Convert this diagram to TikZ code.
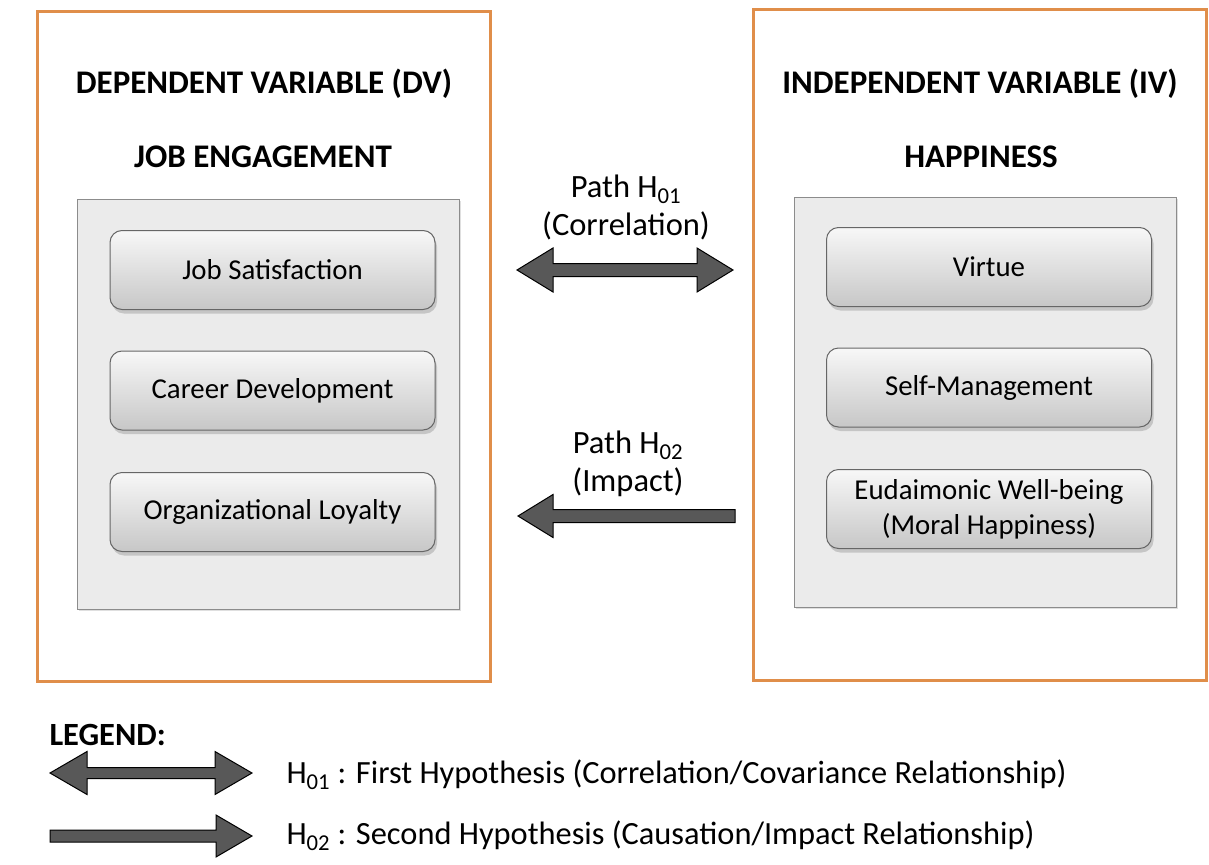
\documentclass[tikz,border=0pt]{standalone}
\usepackage{fontspec}
\setmainfont{Carlito}
\usetikzlibrary{shadows}
\definecolor{frameorange}{RGB}{224,142,74}
\definecolor{panelgray}{RGB}{235,235,235}
\definecolor{arrowgray}{RGB}{88,88,88}
\tikzset{
  frame/.style={draw=frameorange, line width=3pt, inner sep=0pt},
  panel/.style={draw=black!45, fill=panelgray, line width=0.9pt, inner sep=0pt,
    drop shadow={shadow xshift=2pt, shadow yshift=-2pt, opacity=0.25}},
  item/.style={draw=black!60, line width=1pt, rounded corners=12pt,
    top color=black!3, bottom color=black!22, minimum width=325pt, minimum height=79pt,
    inner sep=0pt, align=center, font=\fontsize{28.8}{35}\selectfont,
    drop shadow={shadow xshift=2pt, shadow yshift=-4pt, opacity=0.35}},
  title/.style={font=\bfseries\fontsize{33}{38}\selectfont},
  lbl/.style={font=\fontsize{32.5}{38}\selectfont, align=center},
  legtext/.style={font=\fontsize{32.4}{38}\selectfont, anchor=west},
  fat/.style={draw=black, line width=1pt, fill=arrowgray, line join=miter}
}
\begin{document}
\begin{tikzpicture}[x=1pt, y=-1pt]
\useasboundingbox (0,0) rectangle (1209,864);
% frames
\node[frame, minimum width=453pt, minimum height=669pt] (dvframe) at (263.5,346.5) {};
\node[frame, minimum width=453pt, minimum height=670pt] (ivframe) at (979.5,345) {};
% titles
\node[title] (dvtitle) at (264,84) {DEPENDENT VARIABLE (DV)};
\node[title] (dvname) at (263,157) {JOB ENGAGEMENT};
\node[title] (ivtitle) at (980,84) {INDEPENDENT VARIABLE (IV)};
\node[title] (ivname) at (981,157) {HAPPINESS};
% panels
\node[panel, minimum width=382pt, minimum height=410pt] (dvpanel) at (268,404) {};
\node[panel, minimum width=382pt, minimum height=410pt] (ivpanel) at (985,402) {};
% items
\node[item] (js) at (272.5,270) {Job Satisfaction};
\node[item] (cd) at (272.5,390.5) {Career Development};
\node[item] (ol) at (272.5,512) {Organizational Loyalty};
\node[item] (vi) at (989,267) {Virtue};
\node[item] (sm) at (989,387.5) {Self-Management};
\node[item] (ew) at (989,509) {Eudaimonic Well-being\\(Moral Happiness)};
% path labels
\node[lbl] (p1) at (626,207) {Path H\textsubscript{01}\\(Correlation)};
\node[lbl] (p2) at (628,464) {Path H\textsubscript{02}\\(Impact)};
% arrows
\coordinate (h1l) at (517,270);
\draw[fat] (h1l) -- ++(36,-22) -- ++(0,15.5) -- ++(144,0) -- ++(0,-15.5) -- ++(36,22)
  -- ++(-36,22) -- ++(0,-15.5) -- ++(-144,0) -- ++(0,15.5) -- cycle;
\coordinate (h2tip) at (518,516);
\draw[fat] (h2tip) -- ++(35,-21.5) -- ++(0,15) -- ++(182,0) -- ++(0,13) -- ++(-182,0) -- ++(0,15) -- cycle;
% legend
\node[title, anchor=west, font=\bfseries\fontsize{32.4}{38}\selectfont] (leg) at (46,735) {LEGEND:};
\coordinate (l1l) at (50,773);
\draw[fat] (l1l) -- ++(37,-21.5) -- ++(0,16) -- ++(128,0) -- ++(0,-16) -- ++(37,21.5)
  -- ++(-37,21.5) -- ++(0,-16) -- ++(-128,0) -- ++(0,16) -- cycle;
\coordinate (l2r) at (252,836);
\draw[fat] (l2r) -- ++(-36,-21) -- ++(0,15) -- ++(-166,0) -- ++(0,12) -- ++(166,0) -- ++(0,15) -- cycle;
\node[legtext] (lt1) at (283,775) {H\textsubscript{01} : First Hypothesis (Correlation/Covariance Relationship)};
\node[legtext] (lt2) at (283,836) {H\textsubscript{02} : Second Hypothesis (Causation/Impact Relationship)};
\end{tikzpicture}
\end{document}
